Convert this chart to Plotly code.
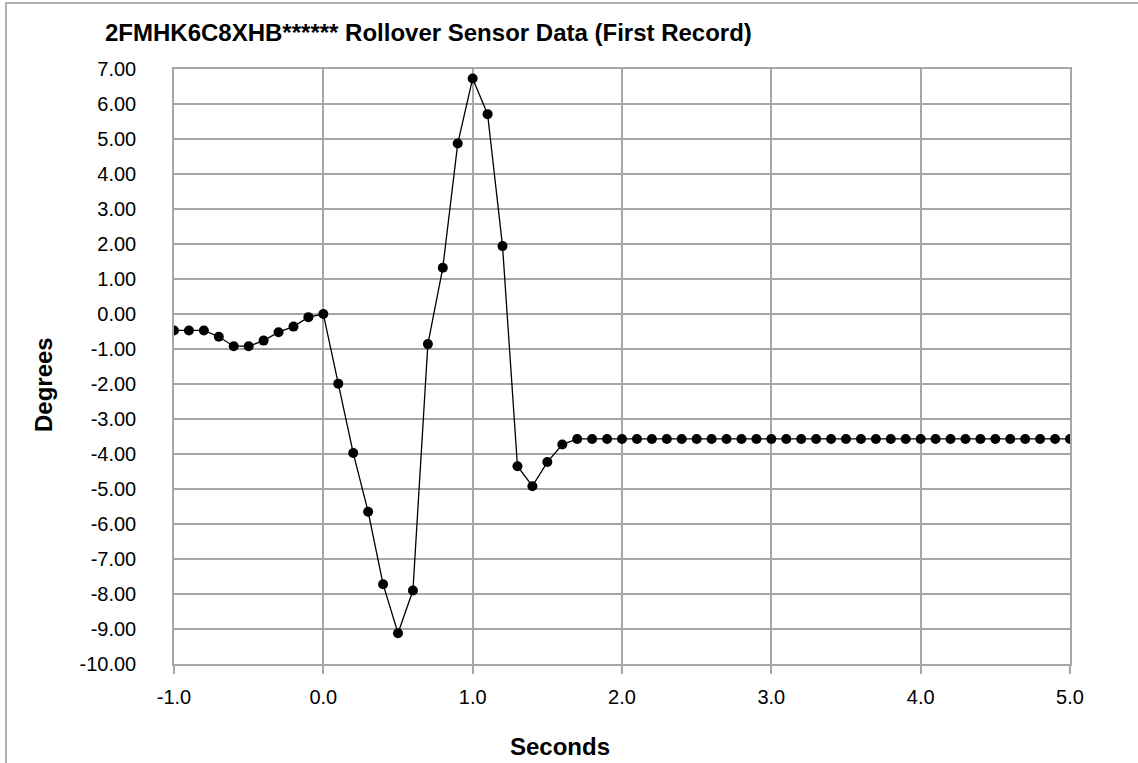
import plotly.graph_objects as go

seconds = [round(-1.0 + 0.1 * i, 1) for i in range(61)]
degrees_head = [-0.47, -0.47, -0.47, -0.65, -0.92, -0.92, -0.76, -0.52, -0.36, -0.09, 0.00,
                -1.99, -3.97, -5.65, -7.72, -9.12, -7.90, -0.86, 1.32, 4.87, 6.73,
                5.71, 1.94, -4.35, -4.92, -4.23, -3.73]
degrees_tail = [-3.57] * (61 - len(degrees_head))
degrees = degrees_head + degrees_tail

x_tickvals = [-1, 0, 1, 2, 3, 4, 5]
x_ticktext = ["-1.0", "0.0", "1.0", "2.0", "3.0", "4.0", "5.0"]
y_tickvals = list(range(-10, 8))
y_ticktext = [("%.2f" % v) for v in y_tickvals]

title_text = "2FMHK6C8XHB****** Rollover Sensor Data (First Record)"
x_title = "Seconds"
y_title = "Degrees"

font_family = "Liberation Sans, Arial, sans-serif"
grid_col = "#a6a6a6"

fig = go.Figure()
fig.add_trace(go.Scatter(
    x=seconds, y=degrees, mode="lines+markers",
    line=dict(color="black", width=1.3),
    marker=dict(color="black", size=10, symbol="circle"),
    showlegend=False,
))

L, R, T, B = 174, 1070, 69, 664
W, H = 1138, 763
fig.update_layout(
    width=W, height=H,
    margin=dict(l=L, r=W - R, t=T, b=H - B),
    paper_bgcolor="white", plot_bgcolor="white",
    font=dict(family=font_family, size=20, color="black"),
    title=dict(text="<b>" + title_text + "</b>", x=105 / W, xanchor="left",
               y=1 - 33 / H, yanchor="middle", font=dict(size=24)),
)
fig.update_xaxes(
    range=[-1, 5], tickvals=x_tickvals, ticktext=x_ticktext,
    showgrid=True, gridcolor=grid_col, gridwidth=1.5,
    zeroline=True, zerolinecolor=grid_col, zerolinewidth=1.5,
    showline=True, linecolor=grid_col, linewidth=1.5, mirror=True,
    ticks="outside", ticklen=8, tickcolor=grid_col, tickwidth=1.5,
    ticklabelstandoff=6,
    tickfont=dict(size=20),
)
fig.update_yaxes(
    range=[-10, 7], tickvals=y_tickvals, ticktext=y_ticktext,
    showgrid=True, gridcolor=grid_col, gridwidth=1.5,
    zeroline=True, zerolinecolor=grid_col, zerolinewidth=1.5,
    showline=True, linecolor=grid_col, linewidth=1.5, mirror=True,
    ticks="", ticklabelstandoff=32,
    tickfont=dict(size=20),
)
fig.add_annotation(text="<b>" + x_title + "</b>", xref="paper", yref="paper",
                   x=(560 - L) / (R - L), y=(B - 746) / (B - T), xanchor="center",
                   yanchor="middle", showarrow=False, font=dict(size=24))
fig.add_annotation(text="<b>" + y_title + "</b>", xref="paper", yref="paper",
                   x=(43 - L) / (R - L), y=(B - 385) / (B - T), xanchor="center",
                   yanchor="middle", textangle=-90, showarrow=False, font=dict(size=24))
# outer chart-area border
fig.add_shape(type="rect", xref="paper", yref="paper",
              x0=(6 - L) / (R - L), x1=(W + 5 - L) / (R - L),
              y0=(B - (H + 5)) / (B - T), y1=(B - 3) / (B - T),
              line=dict(color="#b0b0b0", width=2), fillcolor="rgba(0,0,0,0)",
              layer="below")

fig.write_html("out.html", config={"displayModeBar": False},
               post_script="document.body.style.margin='0px';")
